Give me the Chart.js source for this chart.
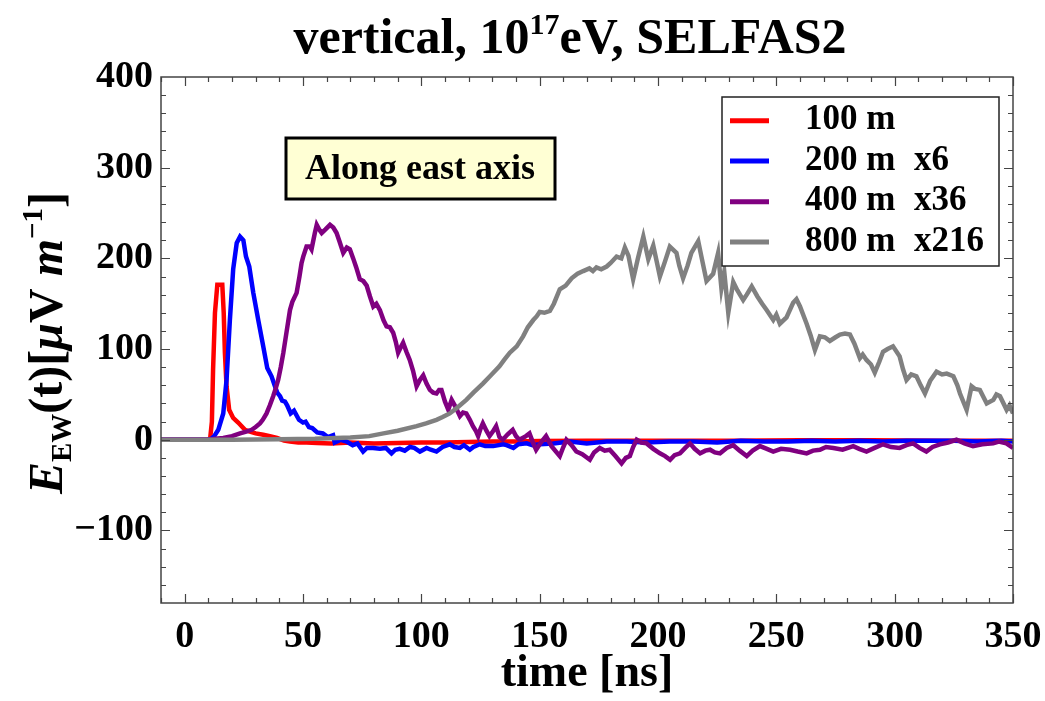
<!DOCTYPE html>
<html><head><meta charset="utf-8">
<script src="https://cdn.jsdelivr.net/npm/chart.js@4/dist/chart.umd.min.js"></script>
<style>html,body{margin:0;padding:0;background:#fff;}#wrap{width:1045px;height:701px;position:relative;}</style>
</head><body><div id="wrap"><canvas id="c" width="1045" height="701"></canvas></div>
<script>
// ---- data ----
const legendDist = ['100 m', '200 m', '400 m', '800 m'];
const legendScale = ['', 'x6', 'x36', 'x216'];
const seriesColors = ['#ff0000', '#0000ff', '#800080', '#808080'];
const xTicks = [0, 50, 100, 150, 200, 250, 300, 350];
const yTicks = [-100, 0, 100, 200, 300, 400];

const tRed = [-10, 0, 10, 10.8, 11.5, 12, 12.8, 13.8, 15.9, 16.5, 17, 17.7, 18.8, 20.5, 22.6, 25.5, 27.6, 30, 33.2, 36, 39, 42, 44.5, 48, 51.5, 56, 62, 70, 80, 90, 100, 110, 120, 130, 140, 150, 170, 200, 230, 260, 290, 320, 350];
const vRed = [0, 0, 0, 2, 20, 77, 140, 171, 171, 140, 96, 59, 33, 24, 19, 11, 9, 7, 5.5, 4, 2, -1, -2, -3, -3, -3.5, -4, -3, -4, -3.5, -3, -3, -2.5, -2, -2, -1.5, -1, -1, -1, -0.5, -0.5, -1, -1];

const tBlue = [-10, 0, 10, 11.2, 12.5, 14.2, 16.3, 17.7, 19.1, 20.5, 22, 23.4, 24.8, 25.9, 27.3, 29, 31.1, 33.2, 34.9, 36.7, 38, 39.1, 40.3, 41.2, 42.4, 43.3, 44.8, 46.2, 48.3, 50, 51.1, 52.5, 53.9, 56, 58.4, 60.5, 62.7, 63.4, 66, 68.4, 71, 73, 75.4, 77, 79.6, 82.5, 85, 87.4, 89, 90.9, 93, 95.2, 97, 99.4, 102.2, 104, 106.4, 109, 112, 114, 116.3, 118, 120.5, 122, 124.7, 127, 130.4, 134.6, 136, 138.9, 141, 144.5, 147, 150.1, 155.8, 162.8, 169.9, 178.3, 186.8, 195, 205, 215, 225, 235, 245, 255, 265, 275, 285, 295, 305, 315, 325, 335, 345, 350];
const vBlue = [0, 0, 0, 1, 4, 11, 29, 66, 132, 188, 217, 224, 220, 202, 191, 162, 132, 103, 79, 70, 60, 52, 48, 43, 42, 38, 29, 32, 22, 19, 20, 14, 13, 8, 7, 3, 5, -3, 0, -2, -6, -4, -13, -9, -9, -10, -9, -15, -11, -10, -12, -8, -9, -13, -9, -11, -13, -8, -5, -8, -9, -6, -11, -8, -5, -7, -7, -5, -6, -9, -5, -4, -6, -5, -4, -2, -4, -2, -2, -3, -2, -2, -3, -1, -2, -2, -1, -2, -1, -2, -1, -1, -1, -2, -1, -2];

const tPurple = [-10, 0, 10, 13, 16.3, 20, 23.4, 26, 28.3, 30, 31.8, 33, 34.6, 36, 37.4, 38.5, 39.5, 40.6, 41.7, 43, 44.5, 45.5, 47.3, 48.5, 49.4, 50.1, 51.5, 52.9, 53.6, 55, 55.8, 56.8, 57.9, 59.5, 61.4, 62.8, 64.2, 65.5, 67, 68.5, 69.8, 71.2, 72.5, 74, 75.5, 76.9, 78.3, 79.7, 81, 82.5, 84, 85.3, 86.7, 88.1, 89.2, 90.2, 91.3, 92.3, 93.7, 95.1, 96.5, 98, 99.4, 100.8, 102.2, 103.6, 105, 106.4, 107.5, 108.5, 110, 111.4, 112.8, 114.5, 116.3, 117.6, 119, 120.5, 121.8, 123, 124, 125, 126, 127.5, 128.8, 130.2, 131.6, 133, 134.4, 136.5, 138.6, 140, 141.4, 142.8, 144.2, 145.7, 147, 148.5, 150.5, 152.7, 155, 158.5, 160, 161.3, 163.5, 165.5, 168, 171.2, 173, 175.4, 177.5, 179.6, 182, 184.6, 186.4, 188.1, 189.5, 191, 193, 195.2, 198, 200.8, 203, 205.1, 207, 209.3, 211.5, 213.5, 215.5, 217.8, 220, 222, 224, 226.2, 229, 231.8, 234.5, 237.5, 240, 243.1, 246, 248.7, 252, 255.8, 259, 262.8, 265.5, 268.4, 271, 274.1, 278, 282.5, 285, 288.1, 291.5, 295.1, 298.5, 302.1, 305, 307.8, 310.5, 313.4, 316, 319.1, 322.5, 326.1, 329.5, 333.1, 337, 341.6, 344, 347.2, 350];
const vPurple = [0, 0, 0, 1, 2, 4, 7, 9, 11, 14, 18, 22, 29, 38, 48, 57, 66, 80, 96, 118, 143, 152, 162, 180, 195, 202, 213, 213, 210, 228, 237, 232, 228, 232, 237, 234, 228, 218, 206, 212, 210, 200, 190, 177, 175, 170, 158, 147, 150, 143, 132, 125, 124, 118, 108, 96, 102, 107, 97, 88, 76, 59, 66, 71, 62, 55, 52, 51, 55, 55, 42, 33, 44, 36, 26, 30, 29, 22, 15, 10, 4, 12, 18, 10, 4, 9, 15, 3, 0, 6, 11, 4, 0, 2, 4, 7, -2, -11, -3, 4, -7, -18, -8, 0, -6, -13, -16, -22, -14, -9, -12, -11, -18, -26, -20, -18, -8, 0, -3, -4, -10, -15, -18, -22, -17, -15, -9, -4, -10, -15, -12, -11, -14, -15, -9, -6, -12, -18, -12, -7, -10, -13, -10, -11, -13, -15, -12, -11, -8, -9, -11, -7, -10, -13, -9, -5, -8, -9, -6, -4, -9, -13, -8, -5, -3, 0, -4, -7, -5, -4, -2, -4, -9];

const tGray = [-10, 0, 20, 40, 55, 70, 78, 84, 90, 98, 102, 106.4, 109, 112, 115, 119, 122, 126, 129, 133, 135, 137.4, 140.3, 143, 145, 147.3, 148.7, 150, 152, 154.3, 156, 158.5, 161, 163.5, 166, 168.4, 171, 172.5, 174, 176, 178.3, 180, 182.5, 184.5, 186, 187.5, 189.5, 191.5, 193.8, 195.9, 198, 199.5, 200.8, 203, 205, 207.8, 209, 210.6, 212.5, 214.1, 217, 218.5, 220.5, 223.3, 225.4, 226.8, 228, 229.7, 231.8, 233.5, 236, 237.5, 239.6, 242, 244, 245.9, 248.7, 250, 251.5, 254.3, 257.1, 258.5, 260, 262.8, 264.5, 266.3, 268.4, 270.5, 272.6, 275, 276.9, 279, 281.1, 283, 285.3, 286.5, 288.1, 290, 291.6, 293.5, 295.1, 297, 299.3, 302.1, 303.5, 305, 307, 309.2, 311, 312.8, 315, 317.7, 320, 322, 324.8, 326.5, 327.6, 330.4, 332.5, 334, 336, 338.9, 341.7, 343, 344.5, 347.3, 348.5, 350];
const vGray = [0, 0, 0, 0.5, 1, 2.5, 4, 7, 10, 15, 18, 22, 25, 29, 35, 44, 52, 62, 70, 81, 88, 96, 103, 114, 124, 132, 136, 141, 140, 142, 150, 166, 170, 178, 183, 186, 189, 186, 190, 188, 191, 195, 202, 200, 212, 203, 177, 200, 224, 199, 214, 196, 180, 197, 213, 206, 192, 178, 192, 206, 219, 200, 175, 183, 206, 167, 185, 140, 174, 165, 154, 160, 169, 158, 150, 143, 132, 138, 128, 135, 151, 155, 147, 128, 115, 99, 114, 113, 109, 113, 116, 117, 116, 106, 90, 94, 88, 83, 74, 86, 97, 100, 103, 92, 78, 66, 72, 70, 60, 51, 65, 75, 72, 73, 70, 60, 51, 33, 59, 56, 55, 40, 44, 50, 48, 33, 38, 29];

const seriesT = [tRed, tBlue, tPurple, tGray];
const seriesV = [vRed, vBlue, vPurple, vGray];

// ---- chart ----
const SERIF = '"Liberation Serif", "DejaVu Serif", serif';
const datasets = seriesT.map((ts, i) => ({
  label: legendDist[i] + (legendScale[i] ? '  ' + legendScale[i] : ''),
  data: ts.map((t, k) => ({ x: t, y: seriesV[i][k] })),
  borderColor: seriesColors[i],
  backgroundColor: seriesColors[i],
  borderWidth: 4.5,
  pointRadius: 0,
  tension: 0,
  fill: false,
  order: 4 - i
}));

function richText(ctx, segs, cx, baseY) {
  let w = 0;
  segs.forEach(s => { ctx.font = s.font; s.w = ctx.measureText(s.t).width; w += s.w + (s.gap || 0); });
  let x = cx - w / 2;
  segs.forEach(s => { ctx.font = s.font; ctx.fillText(s.t, x, baseY + (s.dy || 0)); x += s.w + (s.gap || 0); });
}

const deco = {
  id: 'deco',
  afterDraw(chart) {
    const { ctx, chartArea: a, scales: { x, y } } = chart;
    ctx.save();
    ctx.strokeStyle = '#444';
    ctx.lineWidth = 1.5;
    ctx.strokeRect(a.left, a.top, a.right - a.left, a.bottom - a.top);
    ctx.lineWidth = 1.2;
    ctx.beginPath();
    for (let v = x.min; v <= x.max + 1e-6; v += 10) {
      const px = Math.round(x.getPixelForValue(v)) + 0.5;
      const L = xTicks.includes(v) ? 9 : 5;
      ctx.moveTo(px, a.bottom); ctx.lineTo(px, a.bottom - L);
      ctx.moveTo(px, a.top); ctx.lineTo(px, a.top + L);
    }
    for (let v = -160; v < y.max; v += 20) {
      const py = Math.round(y.getPixelForValue(v)) + 0.5;
      const L = yTicks.includes(v) ? 9 : 5;
      ctx.moveTo(a.left, py); ctx.lineTo(a.left + L, py);
      ctx.moveTo(a.right, py); ctx.lineTo(a.right - L, py);
    }
    ctx.stroke();

    ctx.fillStyle = '#000';
    ctx.textBaseline = 'alphabetic';
    ctx.textAlign = 'left';
    // Title
    richText(ctx, [
      { t: 'vertical, 10', font: 'bold 50px ' + SERIF },
      { t: '17', font: 'bold 30px ' + SERIF, dy: -19 },
      { t: 'eV, SELFAS2', font: 'bold 50px ' + SERIF }
    ], 570, 53);

    // X title
    richText(ctx, [{ t: 'time [ns]', font: 'bold 46px ' + SERIF }], 587, 686);

    // Y title (rotated)
    ctx.save();
    ctx.translate(62, 343);
    ctx.rotate(-Math.PI / 2);
    richText(ctx, [
      { t: 'E', font: 'italic bold 48px ' + SERIF },
      { t: 'EW', font: 'bold 29px ' + SERIF, dy: 9 },
      { t: '(t)[', font: 'bold 48px ' + SERIF },
      { t: '\u03bc', font: 'italic bold 48px ' + SERIF },
      { t: 'V ', font: 'bold 48px ' + SERIF },
      { t: 'm', font: 'italic bold 48px ' + SERIF },
      { t: '\u22121', font: 'bold 29px ' + SERIF, dy: -20 },
      { t: ']', font: 'bold 48px ' + SERIF }
    ], 0, 0);
    ctx.restore();

    // Annotation box
    ctx.fillStyle = '#ffffd4';
    ctx.fillRect(286, 138, 269, 61);
    ctx.strokeStyle = '#000';
    ctx.lineWidth = 3;
    ctx.strokeRect(286, 138, 269, 61);
    ctx.fillStyle = '#000';
    richText(ctx, [{ t: 'Along east axis', font: 'bold 36px ' + SERIF }], 420, 179);

    // Legend
    const lx = 722, ly = 97, lw = 277, lh = 169;
    ctx.fillStyle = '#fff';
    ctx.fillRect(lx, ly, lw, lh);
    ctx.strokeStyle = '#222';
    ctx.lineWidth = 1.5;
    ctx.strokeRect(lx, ly, lw, lh);
    const rows = [120.7, 161, 201.7, 242];
    chart.data.datasets.forEach((ds, i) => {
      const ry = rows[i];
      ctx.strokeStyle = ds.borderColor;
      ctx.lineWidth = 5;
      ctx.beginPath(); ctx.moveTo(730, ry); ctx.lineTo(769, ry); ctx.stroke();
      ctx.fillStyle = '#000';
      ctx.font = 'bold 35px ' + SERIF;
      ctx.fillText(legendDist[i], 805, ry + 8.5);
      if (legendScale[i]) ctx.fillText(legendScale[i], 914, ry + 8.5);
    });
    ctx.restore();
  }
};

new Chart(document.getElementById('c'), {
  type: 'line',
  data: { datasets },
  options: {
    responsive: false,
    animation: false,
    devicePixelRatio: 1,
    layout: { padding: { top: 77, right: 32, left: 0, bottom: 0 } },
    plugins: { legend: { display: false }, title: { display: false }, tooltip: { enabled: false } },
    scales: {
      x: {
        type: 'linear', min: -10, max: 350,
        grid: { display: false, drawTicks: false },
        border: { display: false },
        afterBuildTicks: s => { s.ticks = xTicks.map(v => ({ value: v })); },
        afterFit: s => { s.height = 98; s.paddingLeft = 0; s.paddingRight = 0; },
        ticks: { color: '#000', padding: 11, maxRotation: 0, autoSkip: false, font: { family: SERIF, weight: 'bold', size: 38 } }
      },
      y: {
        type: 'linear', min: -180, max: 400,
        grid: { display: false, drawTicks: false },
        border: { display: false },
        afterBuildTicks: s => { s.ticks = yTicks.map(v => ({ value: v })); },
        afterFit: s => { s.width = 161; s.paddingTop = 0; s.paddingBottom = 0; },
        ticks: {
          color: '#000', padding: 8, autoSkip: false,
          font: { family: SERIF, weight: 'bold', size: 38 },
          callback: v => (v < 0 ? '\u2212' + Math.abs(v) : String(v))
        }
      }
    }
  },
  plugins: [deco]
});
</script>
</body></html>
